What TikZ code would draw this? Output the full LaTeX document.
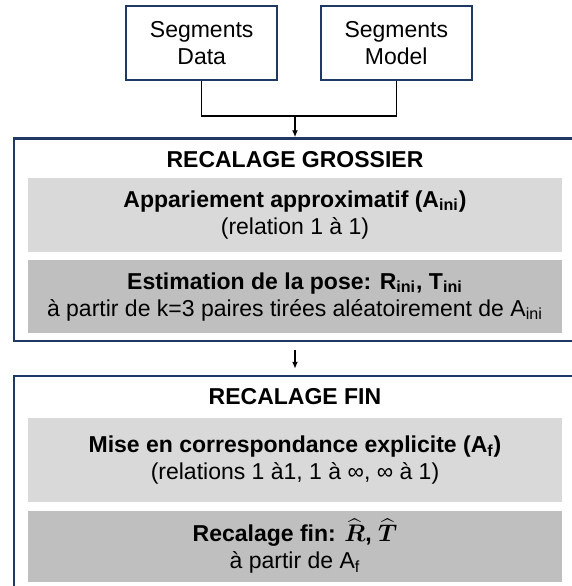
\documentclass[tikz,border=0pt]{standalone}
\usepackage{amsmath,amssymb}
\usepackage{fontspec}
\setmainfont{Liberation Sans}
\usepackage{tikz}
\usepackage{xcolor}
\usetikzlibrary{arrows.meta}

\definecolor{navy}{HTML}{1F3864}
\definecolor{greyA}{HTML}{D9D9D9}
\definecolor{greyB}{HTML}{BFBFBF}

\begin{document}
\begin{tikzpicture}[
  x=0.5pt, y=-0.5pt,
  >={Latex[length=3.5pt,width=3pt]},
  seg/.style={draw=navy, line width=1pt, minimum width=75.5pt, minimum height=37pt, align=center, fill=white},
  stage/.style={draw=navy, line width=1.25pt, minimum width=281pt, inner sep=0pt},
  sub/.style={fill=#1, minimum width=267pt, inner sep=0pt, align=center},
  arr/.style={->, line width=0.75pt},
  every node/.style={font=\fontsize{11.5}{13.5}\selectfont}
]
\clip (0,0) rectangle (572,586);

% inputs
\node[seg] (data) at (201.7,43) {Segments\\Data};
\node[seg] (model) at (396.3,43) {Segments\\Model};

% stages
\node[stage, minimum height=101.25pt] (coarse) at (295,239.75) {};
\node[stage, minimum height=112pt] (fine) at (295,488) {};

\node (coarsetitle) at (295,160) {\textbf{RECALAGE GROSSIER}};
\node[sub=greyA, minimum height=37pt] (app) at (295,214.7)
  {\textbf{Appariement approximatif (A\textsubscript{ini})}\\(relation 1 à 1)};
\node[sub=greyB, minimum height=36.65pt] (pose) at (295,296.7)
  {\textbf{Estimation de la pose: R\textsubscript{ini}, T\textsubscript{ini}}\\à partir de k=3 paires tirées aléatoirement de A\textsubscript{ini}};

\node (finetitle) at (295,397) {\textbf{RECALAGE FIN}};
\node[sub=greyA, minimum height=42pt] (corr) at (295,460.3)
  {\textbf{Mise en correspondance explicite (A\textsubscript{f})}\\(relations 1 à1, 1 à ∞, ∞ à 1)};
\node[sub=greyB, minimum height=35.5pt] (fin) at (295,546.2)
  {\textbf{Recalage fin: $\widehat{\boldsymbol{R}}$, $\widehat{\boldsymbol{T}}$}\\à partir de A\textsubscript{f}};

% connectors
\coordinate (join) at (295,116);
\draw[line width=0.75pt] (data.south) |- (join) -| (model.south);
\draw[arr] (join) -- (coarse.north);
\draw[arr, shorten <=4pt, shorten >=3pt] (coarse.south) -- (fine.north);
\end{tikzpicture}
\end{document}
